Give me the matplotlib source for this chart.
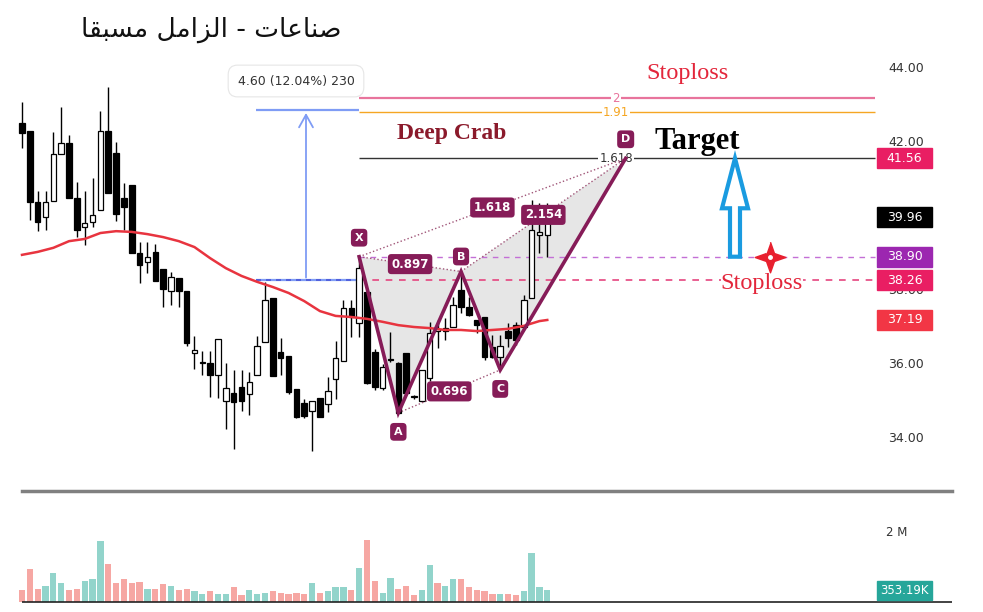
import matplotlib
matplotlib.use('Agg')
import matplotlib.pyplot as plt
import matplotlib.transforms as mtransforms
from matplotlib.patches import Rectangle, Polygon, FancyArrow
from matplotlib.lines import Line2D
import numpy as np

title = 'صناعات - الزامل مسبقا'

# daily candles (open, high, low, close)
opens = [42.52, 42.30, 40.39, 39.98, 40.40, 41.67, 41.97, 40.50, 39.71, 39.83,
         40.16, 42.31, 41.69, 40.48, 40.84, 39.01, 38.77, 39.04, 38.56, 37.98,
         38.32, 37.96, 36.29, 36.02, 36.02, 35.70, 35.01, 35.21, 35.39, 35.19,
         35.70, 36.60, 37.78, 36.33, 36.22, 35.32, 34.95, 34.74, 35.07, 34.91,
         35.59, 36.08, 37.51, 37.10, 37.95, 36.32, 35.35, 36.12, 36.03, 36.30,
         35.10, 35.00, 35.62, 36.90, 36.90, 37.01, 38.00, 37.55, 37.19, 37.28,
         36.47, 36.20, 36.90, 37.05, 37.01, 37.78, 39.50, 39.49]
highs = [43.09, 42.30, 40.68, 40.68, 42.28, 42.94, 42.19, 40.93, 40.68, 41.02,
         42.85, 43.48, 42.01, 40.90, 40.84, 39.31, 39.31, 39.23, 38.56, 38.49,
         38.32, 37.96, 36.76, 36.35, 36.35, 36.68, 36.02, 35.84, 35.84, 35.79,
         36.76, 38.22, 37.78, 36.71, 36.22, 35.32, 35.05, 35.01, 35.07, 35.66,
         36.62, 37.73, 37.73, 38.90, 38.00, 36.40, 36.00, 36.87, 36.05, 36.30,
         35.15, 35.84, 37.14, 37.19, 37.24, 37.82, 38.50, 37.80, 37.19, 37.28,
         36.78, 36.78, 37.10, 37.14, 37.86, 40.43, 40.34, 40.34]
lows = [41.83, 39.89, 39.60, 39.62, 40.40, 41.67, 40.50, 39.44, 39.22, 39.71,
        40.16, 40.62, 39.87, 39.62, 38.99, 38.18, 38.45, 38.23, 37.55, 37.59,
        37.55, 36.49, 35.86, 35.70, 35.12, 35.07, 34.23, 33.70, 34.74, 34.62,
        35.70, 36.60, 35.68, 35.70, 35.19, 34.53, 34.53, 33.66, 34.58, 34.71,
        35.05, 36.08, 36.74, 36.74, 35.45, 35.30, 35.30, 36.06, 34.68, 35.15,
        35.05, 34.98, 35.55, 36.43, 36.65, 37.00, 37.37, 37.30, 36.84, 36.11,
        36.15, 35.84, 36.47, 36.51, 37.00, 37.78, 38.99, 38.90]
closes = [42.24, 40.39, 39.83, 40.37, 41.68, 41.97, 40.50, 39.62, 39.80, 40.03,
          42.31, 40.62, 40.05, 40.25, 38.99, 38.68, 38.90, 38.23, 38.02, 38.36,
          37.96, 36.58, 36.38, 36.03, 35.70, 36.68, 35.36, 34.98, 35.01, 35.52,
          36.49, 37.73, 35.68, 36.17, 35.24, 34.58, 34.59, 35.01, 34.58, 35.28,
          36.17, 37.50, 37.28, 38.59, 35.49, 35.38, 35.93, 36.10, 34.68, 35.22,
          35.12, 35.84, 36.84, 36.92, 36.96, 37.59, 37.55, 37.32, 37.05, 36.20,
          36.20, 36.49, 36.69, 36.65, 37.73, 39.62, 39.58, 39.96]

# volume in millions, 1 = green bar, 0 = red bar
volumes = [0.35, 0.95, 0.37, 0.46, 0.85, 0.56, 0.35, 0.37, 0.61, 0.68,
           1.77, 1.09, 0.56, 0.68, 0.56, 0.58, 0.37, 0.39, 0.53, 0.46,
           0.34, 0.39, 0.32, 0.24, 0.32, 0.24, 0.22, 0.43, 0.19, 0.34,
           0.24, 0.26, 0.32, 0.27, 0.22, 0.26, 0.22, 0.56, 0.27, 0.32,
           0.43, 0.43, 0.34, 1.00, 1.80, 0.61, 0.26, 0.71, 0.39, 0.46,
           0.20, 0.34, 1.07, 0.56, 0.46, 0.68, 0.66, 0.43, 0.34, 0.32,
           0.22, 0.24, 0.24, 0.19, 0.32, 1.41, 0.43, 0.353]
vol_up = [0, 0, 0, 1, 1, 1, 0, 0, 1, 1,
          1, 0, 0, 0, 0, 0, 1, 0, 0, 1,
          0, 0, 1, 1, 0, 1, 1, 0, 0, 1,
          1, 1, 0, 0, 0, 0, 0, 1, 0, 1,
          1, 1, 0, 1, 0, 0, 1, 1, 0, 0,
          0, 1, 1, 0, 1, 1, 0, 0, 0, 0,
          0, 1, 0, 0, 1, 1, 1, 1]

# moving average (sampled)
ma_idx = [0, 2, 4, 6, 8, 10, 12, 14, 16, 18, 20, 22, 24, 26, 28, 30, 32, 34,
          36, 38, 40, 42, 44, 46, 48, 50, 52, 54, 56, 58, 60, 62, 64, 66, 67]
ma_val = [38.95, 39.03, 39.14, 39.32, 39.38, 39.54, 39.59, 39.57, 39.51, 39.43,
          39.32, 39.16, 38.86, 38.59, 38.38, 38.22, 38.08, 37.92, 37.70, 37.43,
          37.30, 37.27, 37.22, 37.14, 37.05, 37.00, 36.97, 36.92, 36.92, 36.89,
          36.92, 36.95, 37.03, 37.16, 37.19]

# harmonic pattern
pat_names = ['X', 'A', 'B', 'C', 'D']
pat_idx = [43, 48, 56, 61, 77]
pat_price = [38.90, 34.68, 38.50, 35.84, 41.56]
ratio_pairs = [('X', 'B', '0.897'), ('A', 'C', '0.696'),
               ('X', 'D', '1.618'), ('B', 'D', '2.154')]

fib_labels = ['2', '1.91', '1.618']
fib_prices = [43.18, 42.80, 41.56]
fib_colors = ['#e8749c', '#f5a623', '#333333']

price_ticks = [46, 44, 42, 40, 38, 36, 34]
tag_prices = [41.56, 39.96, 38.90, 38.26, 37.19]
tag_colors = ['#e91e63', '#000000', '#9c27b0', '#e91e63', '#f23645']

measure_lo, measure_hi = 38.26, 42.86
measure_text = '4.60 (12.04%) 230'
stop_price = 38.90

# pixel layout of the source image
W, H = 983, 612
X0, DX = 22, 7.84          # first candle px, px per bar
Y44, PPU = 68, 37          # px of 44.00, px per 1.00
VBASE, VPPM = 602, 34.5    # volume baseline px, px per 1M


def ix(px):
    return (px - X0) / DX


def py(px):
    return 44 - (px - Y44) / PPU


def shape(text):
    # contextual forms + visual order, matplotlib does no arabic shaping
    forms = {
        'ا': ('\uFE8D', '\uFE8E', None, None),
        'ب': ('\uFE8F', '\uFE90', '\uFE91', '\uFE92'),
        'ت': ('\uFE95', '\uFE96', '\uFE97', '\uFE98'),
        'ز': ('\uFEAF', '\uFEB0', None, None),
        'س': ('\uFEB1', '\uFEB2', '\uFEB3', '\uFEB4'),
        'ص': ('\uFEB9', '\uFEBA', '\uFEBB', '\uFEBC'),
        'ع': ('\uFEC9', '\uFECA', '\uFECB', '\uFECC'),
        'ق': ('\uFED5', '\uFED6', '\uFED7', '\uFED8'),
        'ل': ('\uFEDD', '\uFEDE', '\uFEDF', '\uFEE0'),
        'م': ('\uFEE1', '\uFEE2', '\uFEE3', '\uFEE4'),
        'ن': ('\uFEE5', '\uFEE6', '\uFEE7', '\uFEE8'),
    }
    out = []
    for k, ch in enumerate(text):
        if ch not in forms:
            out.append(ch)
            continue
        iso, fin, ini, med = forms[ch]
        prev = text[k - 1] if k > 0 else ''
        nxt = text[k + 1] if k + 1 < len(text) else ''
        jp = prev in forms and forms[prev][2] is not None
        jn = ini is not None and nxt in forms
        if jp and jn:
            out.append(med)
        elif jp:
            out.append(fin)
        elif jn:
            out.append(ini)
        else:
            out.append(iso)
    return ''.join(reversed(out))


fig = plt.figure(figsize=(W / 100, H / 100), dpi=100)
fig.patch.set_facecolor('white')

ax = fig.add_axes([0, 0, 1, 1])
ax.set_xlim(ix(0), ix(W))
ax.set_ylim(py(H), py(0))
ax.axis('off')

vax = fig.add_axes([0, 0, 1, 1])
vax.set_xlim(ix(0), ix(W))
vax.set_ylim(-(H - VBASE) / VPPM, VBASE / VPPM)
vax.axis('off')
vax.patch.set_alpha(0)

# volume
n = len(opens)
idx = np.arange(n)
vcol = ['#92d4cb' if u else '#f6a7a3' for u in vol_up]
vax.bar(idx, volumes, width=0.8, color=vcol, zorder=2)
vax.hlines(0, ix(X0), ix(952), color='#222222', lw=1.2, zorder=3)
vax.text(ix(897), 2.0, '2 M', ha='center', va='center', fontsize=8.5, color='#333333')
vax.add_patch(Rectangle((ix(877), volumes[-1] - 10 / VPPM), 55 / DX, 19 / VPPM,
                        color='#26a69a', zorder=4))
vax.text(ix(904.5), volumes[-1] - 0.5 / VPPM, '353.19K', ha='center', va='center',
         fontsize=8.5, color='white', zorder=5)
fig.add_artist(Line2D([X0 / W, 952 / W], [1 - 491 / H] * 2, color='#808080', lw=2.5))

# candles
o, h, l, c = map(np.array, (opens, highs, lows, closes))
up = c >= o
ax.vlines(idx, l, h, color='black', lw=1.0, zorder=3)
ax.bar(idx, np.maximum(np.abs(c - o), 0.04), bottom=np.minimum(o, c), width=0.7,
       color=np.where(up, 'white', 'black'), edgecolor='black', lw=0.9, zorder=4)

# moving average
ax.plot(ma_idx, ma_val, color='#e8343f', lw=1.8, zorder=5)

# pattern
P = dict(zip(pat_names, zip(pat_idx, pat_price)))
for tri in (('X', 'A', 'B'), ('B', 'C', 'D')):
    ax.add_patch(Polygon([P[k] for k in tri], closed=True, fc='#d6d6d6', alpha=0.6,
                         ec='none', zorder=1))
for a, b, lab in ratio_pairs:
    (xa, ya), (xb, yb) = P[a], P[b]
    ax.plot([xa, xb], [ya, yb], ls=':', color='#a05578', lw=1.0, zorder=5)
    ax.text((xa + xb) / 2, (ya + yb) / 2, lab, ha='center', va='center', color='white',
            fontsize=8.5, fontweight='bold', zorder=9,
            bbox=dict(boxstyle='round,pad=0.3', fc='#861c58', ec='none'))
ax.plot(pat_idx, pat_price, color='#861c58', lw=2.6, zorder=6, solid_joinstyle='miter')
for name, xi, p in zip(pat_names, pat_idx, pat_price):
    dy = -19 if name in ('A', 'C') else 19
    if name == 'B':
        dy = 15
    ax.annotate(name, (xi, p), xytext=(0, dy), textcoords='offset pixels',
                ha='center', va='center', color='white', fontsize=8, fontweight='bold',
                zorder=9, bbox=dict(boxstyle='round,pad=0.35', fc='#861c58', ec='none'))

# fib levels from X
right = ix(875)
for lab, p, col in zip(fib_labels, fib_prices, fib_colors):
    ax.hlines(p, pat_idx[0], right, color=col, lw=1.6 if lab == '2' else 1.0, zorder=2)
    ax.text(ix(616), p, lab, ha='center', va='center', color=col, fontsize=8.5, zorder=3,
            bbox=dict(boxstyle='square,pad=0.1', fc='white', ec='none'))
ax.hlines(stop_price, pat_idx[0], right, color='#c36fd6', lw=1.0, ls=(0, (4, 4)), zorder=2)
ax.hlines(measure_lo, pat_idx[0], right, color='#e5467f', lw=1.2, ls=(0, (4, 4)), zorder=2)

# measure tool
ax.hlines([measure_lo, measure_hi], ix(256), pat_idx[0], color='#7f9cf5', lw=1.6, zorder=2)
ax.hlines(measure_lo, ix(256), pat_idx[0], color='#4a56d8', lw=1.2, ls=(0, (3, 3)), zorder=2)
ax.annotate('', xy=(ix(306), measure_hi), xytext=(ix(306), measure_lo),
            arrowprops=dict(arrowstyle='->,head_length=0.9,head_width=0.5',
                            color='#7f9cf5', lw=1.3), zorder=2)
ax.text(ix(296), py(81), measure_text, ha='center', va='center',
        fontsize=9, color='#333333', zorder=9,
        bbox=dict(boxstyle='round,pad=0.75', fc='white', ec='#e6e6e6', lw=0.8))

# annotations
serif = 'Liberation Serif'
ax.text(ix(688), py(73), 'Stoploss', ha='center', va='center',
        family=serif, fontsize=17.5, color='#e3263b', zorder=9)
ax.text(ix(452), py(133), 'Deep Crab', ha='center', va='center',
        family=serif, fontsize=17, fontweight='bold', color='#8b1a2b', zorder=9)
ax.text(ix(697), py(141), 'Target', ha='center', va='center',
        family=serif, fontsize=22, fontweight='bold', color='black', zorder=9)
ax.text(ix(762), py(284), 'Stoploss', ha='center', va='center',
        family=serif, fontsize=17.5, color='#e3263b', zorder=9,
        bbox=dict(boxstyle='square,pad=0.0', fc='white', ec='none'))

ax.add_patch(FancyArrow(ix(735), stop_price, 0, fib_prices[2] - stop_price,
                        width=10 / DX, head_width=26 / DX, head_length=50 / PPU,
                        length_includes_head=True, fill=False, ec='#1a9be0', lw=3,
                        zorder=8))
star = [(0, 1), (0.26, 0.26), (1, 0), (0.26, -0.26), (0, -1), (-0.26, -0.26),
        (-1, 0), (-0.26, 0.26)]
ax.plot(ix(770), stop_price, marker=star, ms=22, color='#e8202f', mec='#e8202f', zorder=9)
ax.plot(ix(770), stop_price, marker='o', ms=2.5, color='white', zorder=10)

# price scale
trans = mtransforms.blended_transform_factory(fig.transFigure, ax.transData)
for t in price_ticks:
    ax.text(906 / W, t, f'{t:.2f}', transform=trans, ha='center', va='center',
            fontsize=9, color='#333333', zorder=2)
for p, col in zip(tag_prices, tag_colors):
    ax.add_patch(Rectangle((877 / W, p - 10 / PPU), 55 / W, 20 / PPU, transform=trans,
                           color=col, zorder=10, clip_on=False))
    ax.text(904.5 / W, p, f'{p:.2f}', transform=trans, ha='center', va='center',
            fontsize=9, color='white', zorder=11)

# title
fig.text(211 / W, 1 - 30 / H, shape(title), ha='center', va='center',
         family='DejaVu Sans', fontsize=19, color='#111111')

fig.savefig('out.png', dpi=100)
